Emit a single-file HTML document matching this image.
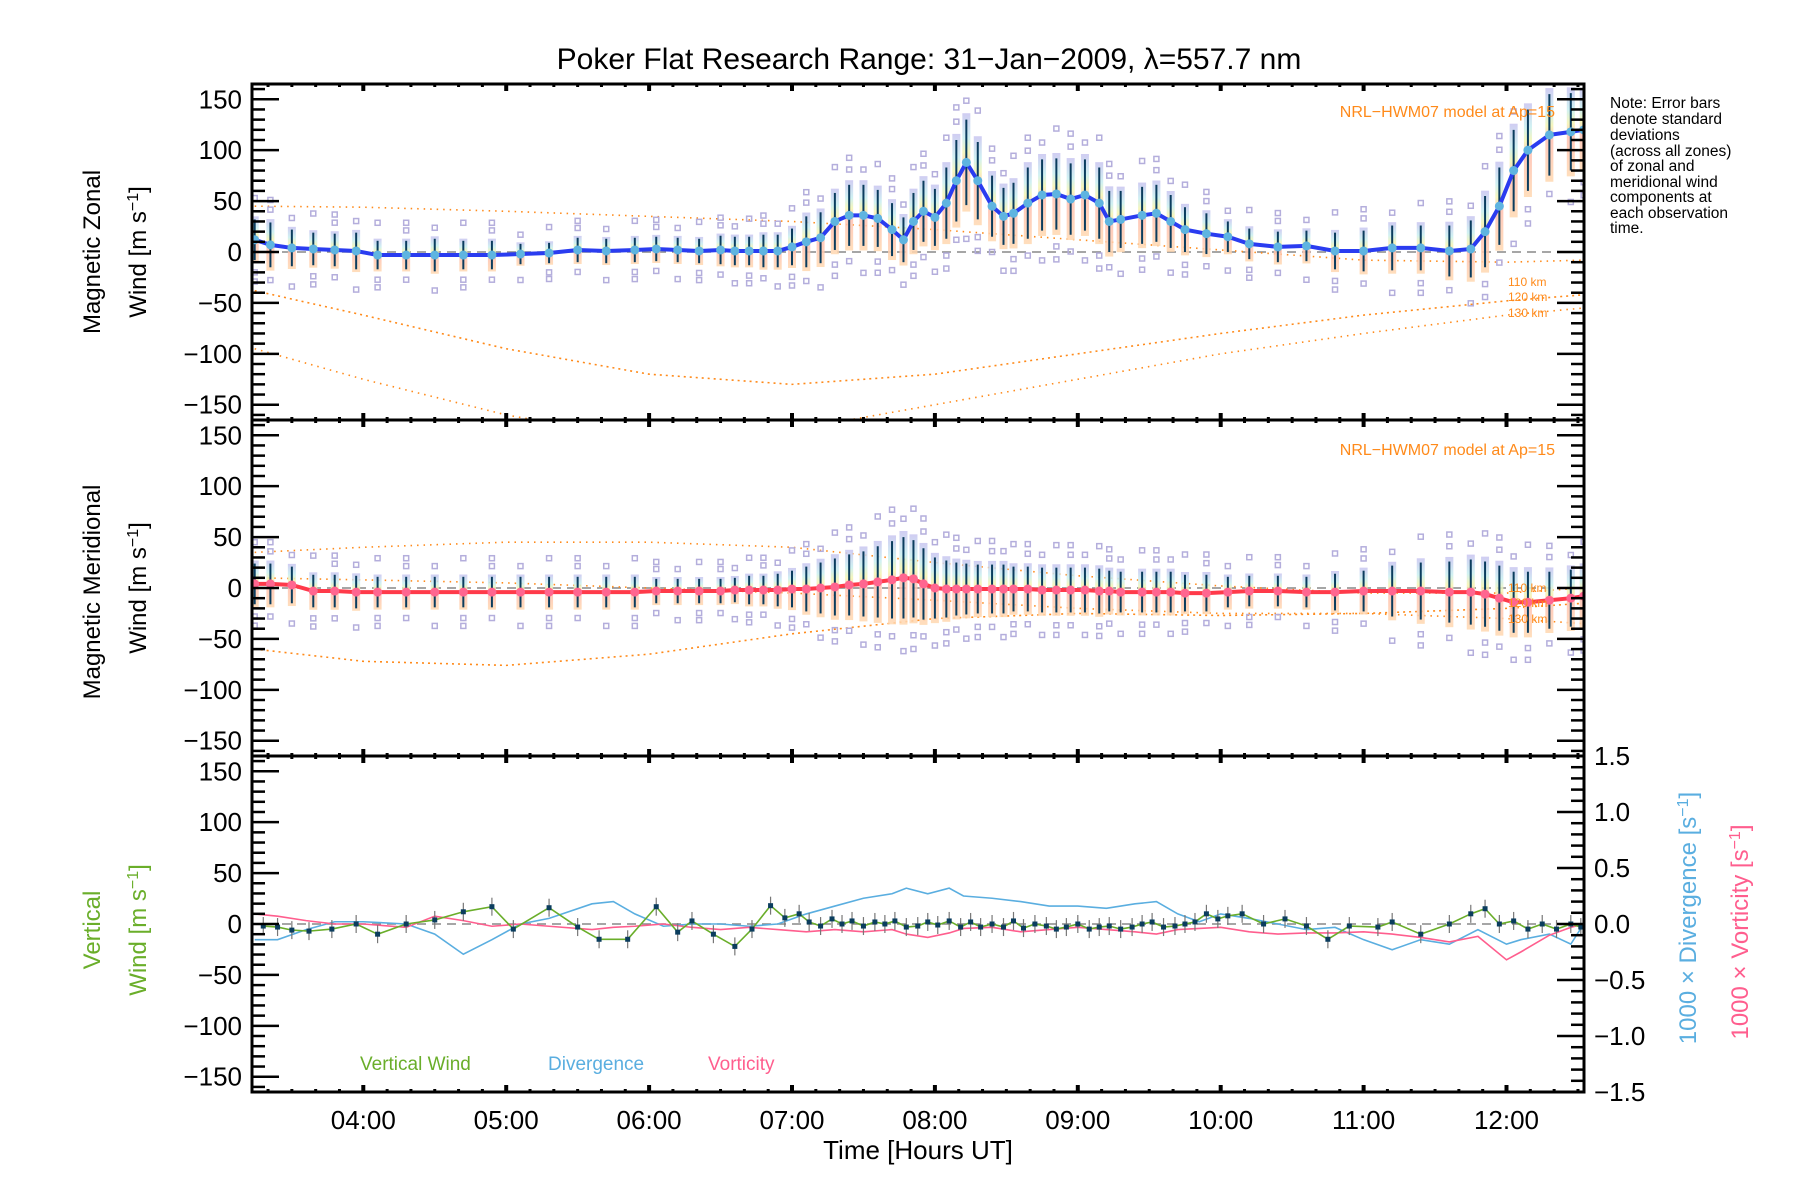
<!DOCTYPE html>
<html><head><meta charset="utf-8"><style>
html,body{margin:0;padding:0;background:#fff;}
svg{display:block;font-family:"Liberation Sans",sans-serif;}
</style></head><body>
<svg id="chart" xmlns="http://www.w3.org/2000/svg" width="1800" height="1200" viewBox="0 0 1800 1200">
<defs>
<linearGradient id="rb" x1="0" y1="0" x2="0" y2="1">
<stop offset="0" stop-color="#c8c4f0"/><stop offset="0.25" stop-color="#c8eef0"/><stop offset="0.4" stop-color="#f4f4b0"/><stop offset="0.55" stop-color="#ffc0b0"/><stop offset="1" stop-color="#ffd8b0"/>
</linearGradient>
<clipPath id="c0"><rect x="252" y="84" width="1332" height="336"/></clipPath>
<clipPath id="c1"><rect x="252" y="420" width="1332" height="336"/></clipPath>
<clipPath id="c2"><rect x="252" y="756" width="1332" height="336"/></clipPath>
</defs>
<text x="929" y="69" font-size="30" text-anchor="middle">Poker Flat Research Range: 31−Jan−2009, λ=557.7 nm</text>
<g id="layer"></g>
<g font-size="15.5">
<text x="1610" y="108">Note: Error bars</text>
<text x="1610" y="124">denote standard</text>
<text x="1610" y="140">deviations</text>
<text x="1610" y="156">(across all zones)</text>
<text x="1610" y="171">of zonal and</text>
<text x="1610" y="187">meridional wind</text>
<text x="1610" y="202">components at</text>
<text x="1610" y="218">each observation</text>
<text x="1610" y="233">time.</text>
</g>
<text x="1555" y="117" font-size="16" fill="#ff8a1a" text-anchor="end">NRL−HWM07 model at Ap=15</text>
<text x="1555" y="455" font-size="16" fill="#ff8a1a" text-anchor="end">NRL−HWM07 model at Ap=15</text>
<g fill="#ff8a1a" font-size="12">
<text x="1508" y="286">110 km</text>
<text x="1508" y="301">120 km</text>
<text x="1508" y="317">130 km</text>
<text x="1508" y="592">110 km</text>
<text x="1508" y="607">120 km</text>
<text x="1508" y="623">130 km</text>
</g>
<g font-size="24" text-anchor="middle">
<text transform="translate(100,252) rotate(-90)">Magnetic Zonal</text>
<text transform="translate(146,252) rotate(-90)">Wind [m s<tspan baseline-shift="super" font-size="16">−1</tspan>]</text>
<text transform="translate(100,592) rotate(-90)">Magnetic Meridional</text>
<text transform="translate(146,588) rotate(-90)">Wind [m s<tspan baseline-shift="super" font-size="16">−1</tspan>]</text>
<text fill="#6aae2a" transform="translate(100,930) rotate(-90)">Vertical</text>
<text fill="#6aae2a" transform="translate(146,930) rotate(-90)">Wind [m s<tspan baseline-shift="super" font-size="16">−1</tspan>]</text>
<text fill="#5aaee0" transform="translate(1696,918) rotate(-90)">1000 × Divergence [s<tspan baseline-shift="super" font-size="16">−1</tspan>]</text>
<text fill="#ff5e8e" transform="translate(1748,932) rotate(-90)">1000 × Vorticity [s<tspan baseline-shift="super" font-size="16">−1</tspan>]</text>
</g>
<g font-size="19">
<text x="360" y="1070" fill="#6aae2a">Vertical Wind</text>
<text x="548" y="1070" fill="#5aaee0">Divergence</text>
<text x="708" y="1070" fill="#ff5e8e">Vorticity</text>
</g>
<text x="918" y="1159" font-size="26" text-anchor="middle">Time [Hours UT]</text>
</svg>
<script>
const times=[3.24,3.35,3.5,3.65,3.8,3.95,4.1,4.3,4.5,4.7,4.9,5.1,5.3,5.5,5.7,5.9,6.05,6.2,6.35,6.5,6.6,6.7,6.8,6.9,7.0,7.1,7.2,7.3,7.4,7.5,7.6,7.7,7.78,7.85,7.92,8.0,8.08,8.15,8.22,8.3,8.4,8.48,8.55,8.65,8.75,8.85,8.95,9.05,9.15,9.22,9.3,9.45,9.55,9.65,9.75,9.9,10.05,10.2,10.4,10.6,10.8,11.0,11.2,11.4,11.6,11.75,11.85,11.95,12.05,12.15,12.3,12.45,12.54];
const zonal=[12,7,4,3,2,1,-3,-3,-3,-3,-3,-2,-1,2,1,2,3,2,1,2,1,1,1,1,5,10,14,30,36,36,33,22,12,30,40,34,48,70,88,70,45,35,38,48,56,57,52,56,48,30,32,36,38,30,22,18,15,8,5,6,1,1,4,4,1,3,20,45,80,100,115,118,120];
const zonalErr=[20,22,18,16,16,18,14,14,16,14,14,10,10,12,12,12,12,12,12,14,14,14,16,16,18,25,25,28,30,30,28,26,22,28,30,28,35,40,42,38,30,28,30,35,35,35,35,35,35,30,28,28,28,26,22,20,15,15,15,15,18,20,22,22,25,28,35,38,40,40,40,38,35];
const meridional=[4,4,3,-3,-3,-4,-4,-4,-4,-4,-4,-4,-4,-4,-4,-4,-3,-3,-3,-3,-2,-2,-2,-2,-1,-1,0,1,3,4,6,8,10,9,4,0,-1,-1,-1,-1,-1,-1,-1,-1,-2,-2,-2,-2,-3,-3,-4,-4,-4,-4,-5,-5,-4,-3,-3,-4,-4,-3,-3,-3,-4,-4,-6,-10,-14,-14,-12,-10,-8];
const merErr=[20,20,18,16,16,16,15,15,15,15,15,15,15,15,15,15,12,12,12,12,12,14,14,16,18,22,25,28,30,32,35,38,40,38,35,30,28,26,25,24,24,24,22,22,22,22,22,22,22,20,20,20,20,20,18,18,15,15,15,15,18,20,25,28,30,32,32,32,30,30,28,28,28];
const vwTimes=[3.3,3.4,3.5,3.62,3.78,3.95,4.1,4.3,4.5,4.7,4.9,5.05,5.3,5.5,5.65,5.85,6.05,6.2,6.3,6.45,6.6,6.72,6.85,6.95,7.05,7.12,7.2,7.28,7.35,7.42,7.5,7.58,7.65,7.72,7.8,7.88,7.95,8.02,8.1,8.18,8.25,8.32,8.4,8.48,8.55,8.62,8.7,8.78,8.85,8.92,9.0,9.08,9.15,9.22,9.3,9.38,9.45,9.52,9.6,9.68,9.75,9.82,9.9,9.98,10.05,10.15,10.3,10.45,10.6,10.75,10.9,11.1,11.2,11.4,11.6,11.75,11.85,11.95,12.05,12.15,12.25,12.35,12.45,12.52];
const verticalWind=[-2,-3,-6,-7,-5,0,-10,0,4,12,17,-5,16,-3,-15,-15,17,-8,3,-10,-22,-5,18,6,10,2,-2,5,0,3,-2,2,0,3,-3,-2,2,-1,3,-3,2,-3,0,-3,3,-4,0,-2,-5,-3,0,-5,-3,-2,-5,-3,0,2,-3,-2,0,2,10,5,8,10,0,5,-2,-15,-2,-3,2,-10,0,10,15,0,3,-5,0,-5,0,-3];
const divTimes=[3.24,3.4,3.6,3.8,4.0,4.3,4.5,4.7,4.9,5.1,5.3,5.6,5.75,5.9,6.1,6.3,6.5,6.7,6.9,7.1,7.3,7.5,7.7,7.8,7.95,8.1,8.2,8.4,8.6,8.8,9.0,9.2,9.4,9.55,9.7,9.85,10.0,10.2,10.4,10.6,10.8,11.0,11.2,11.4,11.6,11.8,12.0,12.1,12.3,12.45,12.54];
const divergence=[-0.14,-0.14,-0.05,0.02,0.02,0,-0.09,-0.27,-0.14,0,0.05,0.18,0.2,0.09,-0.02,0,0,-0.02,0,0.09,0.16,0.23,0.27,0.32,0.27,0.32,0.25,0.23,0.2,0.16,0.16,0.14,0.18,0.2,0.09,0.02,0.09,0.05,0,-0.05,-0.03,-0.14,-0.23,-0.14,-0.18,-0.05,-0.18,-0.14,-0.09,-0.18,0];
const vorticity=[0.09,0.07,0.03,0,0,-0.03,0.07,0.03,-0.02,0,-0.02,-0.05,-0.03,-0.02,0,-0.03,-0.05,-0.03,-0.05,-0.07,-0.05,-0.07,-0.05,-0.09,-0.12,-0.08,-0.04,-0.03,-0.07,-0.05,-0.03,-0.05,-0.07,-0.09,-0.05,-0.04,-0.03,-0.07,-0.09,-0.08,-0.08,-0.07,-0.09,-0.12,-0.16,-0.11,-0.32,-0.25,-0.1,-0.03,0];
const modelTimes=[3.24,4,5,6,7,8,9,10,11,12,12.54];
const zonal110=[45,44,40,35,30,22,12,2,-8,-10,-8];
const zonal120=[-38,-62,-95,-120,-130,-120,-100,-80,-62,-48,-42];
const zonal130=[-95,-125,-160,-185,-175,-150,-125,-100,-80,-62,-55];
const mer110=[35,40,45,45,40,25,12,2,-5,-5,0];
const mer120=[-60,-72,-76,-65,-45,-30,-25,-27,-25,-20,-15];
const mer130=[10,8,5,0,-5,-12,-20,-25,-25,-30,-35];
const leftTicks=[-150,-100,-50,0,50,100,150];
const rightTicks=[-1.5,-1.0,-0.5,0.0,0.5,1.0,1.5];
const hourTicks=[4,5,6,7,8,9,10,11,12];
const hourLabels=["04:00","05:00","06:00","07:00","08:00","09:00","10:00","11:00","12:00"];

const NS="http://www.w3.org/2000/svg";
const L=252,R=1584,H=336,TOPS=[84,420,756];
const X0=363.3,PXH=142.9,PXU=336/330;
const xs=h=>X0+(h-4)*PXH;
const ys=(p,v)=>TOPS[p]+H/2-v*PXU;
const yr=(v)=>ys(2,v*110);
const layer=document.getElementById('layer');
function mk(tag,attrs,parent){const e=document.createElementNS(NS,tag);for(const k in attrs)e.setAttribute(k,attrs[k]);(parent||layer).appendChild(e);return e;}

function drawPanelData(p,vals,errs,lineCol,name){
  const g=mk('g',{'clip-path':'url(#c'+p+')'});
  
  
  for(let i=0;i<times.length;i++){
    const x=xs(times[i]),e=errs[i]*1.15;
    const r=mk('rect',{x:x-4,y:ys(p,vals[i]+e),width:8,height:2*e*PXU,fill:'url(#rb)',opacity:0.85},g);
    
    
    const offs=[errs[i]*0.3+6,errs[i]*0.55+10];
    offs.forEach((o,k)=>{
      [1,-1].forEach(s=>{
        if((i+k+(s>0?0:1))%3===0) return;
        const sq=mk('rect',{x:x-2.5,y:ys(p,vals[i]+s*(errs[i]+o))-2.5,width:5,height:5,fill:'none',stroke:'#b4aedc','stroke-width':1.5},g);
        
        
      });
    });
  }
  for(let i=0;i<times.length;i++){
    const x=xs(times[i]);
    const eb=mk('line',{x1:x,x2:x,y1:ys(p,vals[i]+errs[i]),y2:ys(p,vals[i]-errs[i]),stroke:'#0b3d5e','stroke-width':2},g);
    
    
  }
  const pl=mk('polyline',{points:times.map((t,i)=>xs(t)+','+ys(p,vals[i])).join(' '),fill:'none',stroke:lineCol,'stroke-width':4},g);
  
  
  for(let i=0;i<times.length;i++){
    const c=mk('circle',{cx:xs(times[i]),cy:ys(p,vals[i]),r:4.5,fill:p==0?'#5fb4e0':'#ff6690'},g);
    
    
  }
}
function drawModel(p,arr,name,dash){
  const g=mk('polyline',{'clip-path':'url(#c'+p+')',points:modelTimes.map((t,i)=>xs(t)+','+ys(p,arr[i])).join(' '),fill:'none',stroke:'#ff8a1a','stroke-width':1.6,'stroke-dasharray':dash});
  
  
}
function drawZero(p){
  const z=mk('line',{x1:L,x2:R,y1:ys(p,0),y2:ys(p,0),stroke:'#888','stroke-width':1.5,'stroke-dasharray':'9,6'});
  
  
}
[0,1,2].forEach(drawZero);
drawModel(0,zonal110,'model-zonal-110km','1.5,5');
drawModel(0,zonal120,'model-zonal-120km','2,4');
drawModel(0,zonal130,'model-zonal-130km','1.5,5');
drawModel(1,mer110,'model-meridional-110km','1.5,5');
drawModel(1,mer120,'model-meridional-120km','2,4');
drawModel(1,mer130,'model-meridional-130km','1.5,5');
drawPanelData(0,zonal,zonalErr,'#2a3cf0','zonal');
drawPanelData(1,meridional,merErr,'#ff3a4a','meridional');

const g2=mk('g',{'clip-path':'url(#c2)'});


const dl=mk('polyline',{points:divTimes.map((t,i)=>xs(t)+','+yr(divergence[i])).join(' '),fill:'none',stroke:'#5aaee0','stroke-width':1.6},g2);


const vl=mk('polyline',{points:divTimes.map((t,i)=>xs(t)+','+yr(vorticity[i])).join(' '),fill:'none',stroke:'#ff5e8e','stroke-width':1.6},g2);


const wl=mk('polyline',{points:vwTimes.map((t,i)=>xs(t)+','+ys(2,verticalWind[i])).join(' '),fill:'none',stroke:'#6aae2a','stroke-width':1.6},g2);


for(let i=0;i<vwTimes.length;i++){
  const x=xs(vwTimes[i]),y=ys(2,verticalWind[i]);
  const e=mk('line',{x1:x,x2:x,y1:y-9,y2:y+9,stroke:'#777','stroke-width':1.2},g2);
  
  
  const d=mk('rect',{x:x-2.5,y:y-2.5,width:5,height:5,fill:'#0b3d5e'},g2);
  
  
}

for(let p=0;p<3;p++){
  const T=TOPS[p],B=T+H;
  const fr=mk('rect',{x:L,y:T,width:R-L,height:H,fill:'none',stroke:'#000','stroke-width':3});
  
  
  for(let v=-160;v<=160;v+=10){
    const y=ys(p,v),maj=v%50===0;
    const len=maj?27:13;
    mk('line',{x1:L,x2:L+len,y1:y,y2:y,stroke:'#000','stroke-width':2.5});
    if(p<2) mk('line',{x1:R,x2:R-len,y1:y,y2:y,stroke:'#000','stroke-width':2.5});
  }
  leftTicks.forEach(v=>{
    const t=mk('text',{x:L-10,y:ys(p,v)+9,'font-size':26,'text-anchor':'end'});
    t.textContent=(v<0?'−':'')+Math.abs(v);
    
    
  });
  for(let m=0;m<60;m++){
    const h=3+m/6; if(h<3.224||h>12.54) continue;
    const x=xs(h),maj=m%6===0,len=maj?7:3;
    mk('line',{x1:x,x2:x,y1:B,y2:B-len,stroke:'#000','stroke-width':maj?4:3});
    mk('line',{x1:x,x2:x,y1:T,y2:T+len,stroke:'#000','stroke-width':maj?4:3});
  }
}
for(let k=-15;k<=15;k++){
  const v=k/10,y=yr(v),maj=k%5===0;
  mk('line',{x1:R,x2:R-(maj?27:13),y1:y,y2:y,stroke:'#000','stroke-width':2.5});
}
rightTicks.forEach(v=>{
  const t=mk('text',{x:R+10,y:yr(v)+9,'font-size':26});
  t.textContent=(v<0?'−':'')+Math.abs(v).toFixed(1);
  
  
});
hourTicks.forEach((h,i)=>{
  const t=mk('text',{x:xs(h),y:1129,'font-size':26,'text-anchor':'middle'});
  t.textContent=hourLabels[i];
  
  
});
</script>
</body></html>
